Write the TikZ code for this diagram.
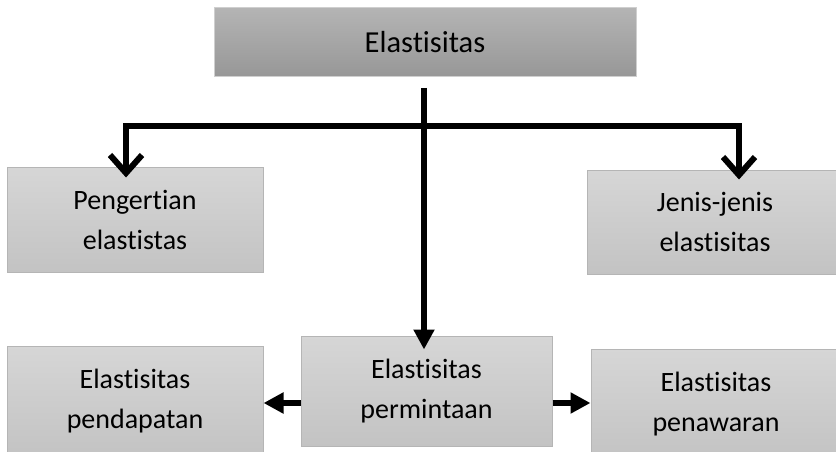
\documentclass[tikz,border=0pt]{standalone}
\usepackage{fontspec}
\setmainfont{Carlito}[Ligatures=NoCommon]
\usetikzlibrary{arrows.meta}

\definecolor{headtop}{HTML}{B4B4B4}
\definecolor{headbot}{HTML}{979797}
\definecolor{headline}{HTML}{CFCFCF}
\definecolor{boxtop}{HTML}{D6D6D6}
\definecolor{boxbot}{HTML}{C3C3C3}
\definecolor{boxline}{HTML}{B5B5B5}

\tikzset{
  box/.style={draw=boxline, line width=1pt, top color=boxtop, bottom color=boxbot,
    align=center, inner sep=0pt, text=black, font=\fontsize{28}{40}\selectfont},
  headbox/.style={box, draw=headline, top color=headtop, bottom color=headbot,
    font=\fontsize{30.5}{40}\selectfont},
  link/.style={line width=6pt, black},
  barb/.style={-{Straight Barb[length=18pt,width=32pt]}},
  headtip/.style={-{Triangle[length=20pt,width=20pt]}}
}

\begin{document}
\begin{tikzpicture}[x=1pt,y=-1pt]
        \path[use as bounding box] (0,0) rectangle (836,452);
        \clip (0,0) rectangle (836,452);

        % Boxes
        \node[headbox, minimum width=422pt, minimum height=69pt] (elast) at (425,42.5) {Elastisitas};
        \node[box, minimum width=256pt, minimum height=105pt] (pengertian) at (135,219.5) {Pengertian\\elastistas};
        \node[box, minimum width=256pt, minimum height=104pt] (jenis) at (715,222) {Jenis-jenis\\elastisitas};
        \node[box, minimum width=251pt, minimum height=110pt] (permintaan) at (426.5,391) {Elastisitas\\permintaan};
        \node[box, minimum width=256pt, minimum height=110pt] (pendapatan) at (135,401) {Elastisitas\\pendapatan};
        \node[box, minimum width=250pt, minimum height=110pt] (penawaran) at (716,404) {Elastisitas\\penawaran};

        % Branch points
        \coordinate (drop) at (424,88);
        \coordinate (lbend) at (126,126);
        \coordinate (rbend) at (739,126);

        % Top branch
        \draw[link, barb] (rbend) -- (lbend) -- ([yshift=-11pt]lbend |- pengertian.north);
        \draw[link, barb] (lbend) -- (rbend) -- ([yshift=-10pt]rbend |- jenis.north);

        % Down to permintaan
        \draw[link, headtip] (drop) -- ([yshift=-14pt]drop |- permintaan.north);

        % Side arrows
        \draw[link, headtip] ([yshift=-12pt]permintaan.west) -- ([yshift=-12pt]permintaan.west -| pendapatan.east);
        \draw[link, headtip] ([yshift=-12pt]permintaan.east) -- ([yshift=-12pt]permintaan.east -| penawaran.west);
\end{tikzpicture}
\end{document}
